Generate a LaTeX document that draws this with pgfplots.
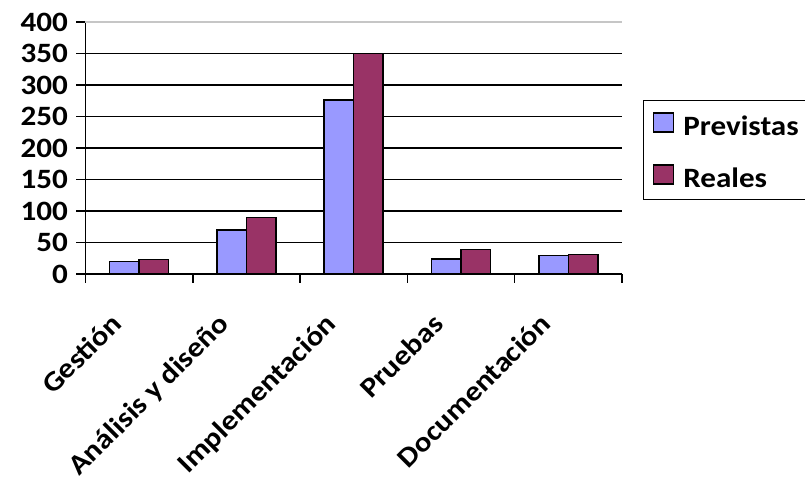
\documentclass[border=0pt]{standalone}
\usepackage{fontspec}
\setmainfont{Carlito}[FakeStretch=1.11]
\usepackage{pgfplots}
\pgfplotsset{compat=1.18}
\definecolor{prev}{HTML}{9999FF}
\definecolor{real}{HTML}{993366}
\newcommand{\cf}{\fontsize{28}{33}\selectfont\bfseries}
\begin{document}
\begin{tikzpicture}
\begin{axis}[
  scale only axis, width=536.5pt, height=252pt,
  xmin=-0.5, xmax=4.5, ymin=0, ymax=400,
  axis x line=bottom, axis y line=left,
  axis line style={-, line width=1.6pt, black},
  ybar=0pt, bar width=29.5pt,
  xtick={-0.5,0.5,...,4.5},
  xticklabels={{},{},{},{},{},{}},
  extra x ticks={0,1,2,3,4},
  extra x tick labels={Gestión, Análisis y diseño, Implementación, Pruebas, Documentación},
  extra x tick style={major tick length=0pt, grid=none,
     xticklabel style={xshift=-30pt, yshift=-33pt, rotate=45, anchor=north east}},
  ytick={0,50,...,350},
  extra y ticks={400},
  extra y tick style={grid style={gray!45, line width=1.2pt}},
  ymajorgrids, grid style={black, line width=1.6pt},
  tick align=outside, major tick length=9pt,
  tick style={line width=1.6pt, black},
  tick label style={font=\cf},
  /pgf/number format/assume math mode=true,
  yticklabel style={xshift=-5pt},
  legend style={at={(1.0386,0.6905)}, anchor=north west, draw=black, line width=1.5pt,
     inner xsep=9.5pt, inner ysep=4pt, row sep=13pt, column sep=9pt,
     nodes={inner sep=0pt, text height=31pt, text depth=8pt, font=\cf},
     cells={anchor=base west}},
  legend image code/.code={\draw[#1, line width=1.5pt] (0pt,3.5pt) rectangle (20pt,22.5pt);},
]
\addplot[fill=prev, draw=black, line width=1.5pt] coordinates {(0,20) (1,70) (2,276) (3,24) (4,29)};
\addplot[fill=real, draw=black, line width=1.5pt] coordinates {(0,23) (1,90) (2,350) (3,39) (4,31)};
\legend{Previstas, Reales}
\coordinate (bl) at (rel axis cs:-0.15937,-0.8413);
\coordinate (tr) at (rel axis cs:1.34124,1.0873);
\end{axis}
\pgfresetboundingbox
\path[use as bounding box] (bl) rectangle (tr);
\end{tikzpicture}
\end{document}
